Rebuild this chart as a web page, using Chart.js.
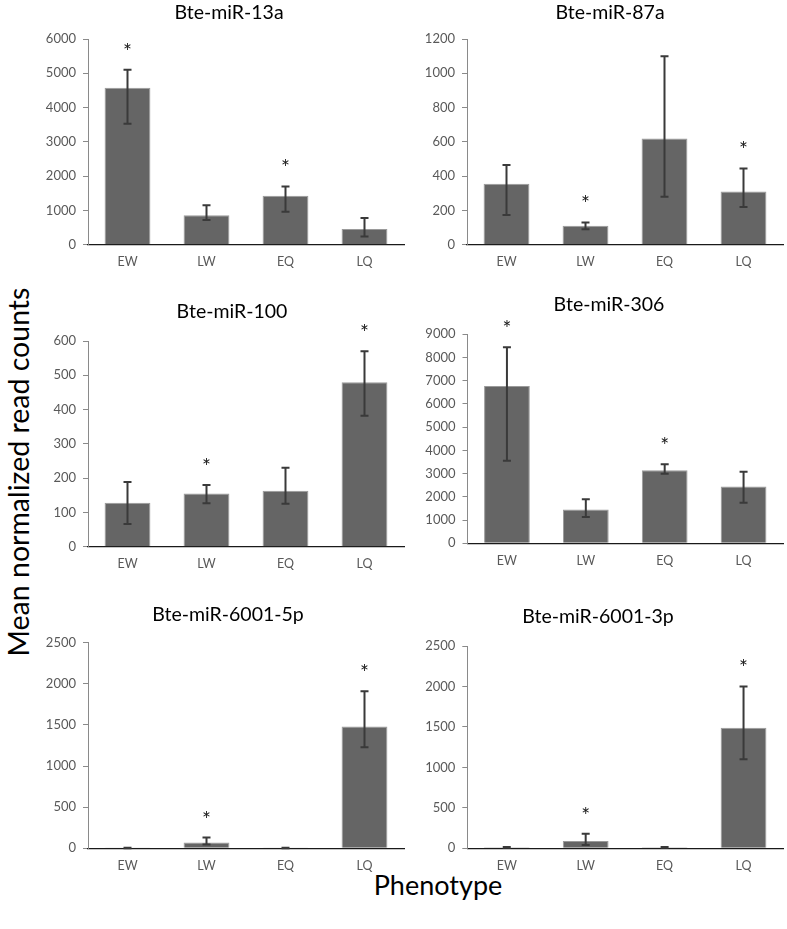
<!DOCTYPE html>
<html>
<head>
<meta charset="utf-8">
<script src="https://cdn.jsdelivr.net/npm/chart.js@4.4.1/dist/chart.umd.min.js"></script>
<style>
  html, body { margin: 0; padding: 0; background: #fff; }
  body { width: 787px; height: 929px; position: relative; overflow: hidden; font-family: Lato, sans-serif; }
  canvas { position: absolute; left: 0; top: 0; }
  .biglab { position: absolute; color: #000; font-size: 27px; white-space: nowrap; transform: translate(-50%, -50%); }
  #ylab { left: 18px; top: 472px; font-size: 28.5px; transform: translate(-50%, -50%) rotate(-90deg); }
  #xlab { left: 438px; top: 884px; }
</style>
</head>
<body>
<div id="ylab" class="biglab">Mean normalized read counts</div>
<div id="xlab" class="biglab">Phenotype</div>
<script>
// --- data ---
const categories = ["EW", "LW", "EQ", "LQ"];
const panelTitles = ["Bte-miR-13a", "Bte-miR-87a", "Bte-miR-100", "Bte-miR-306", "Bte-miR-6001-5p", "Bte-miR-6001-3p"];

const meanCounts = [
  [4580, 860, 1430, 460],
  [355, 110, 620, 310],
  [128, 155, 163, 480],
  [6770, 1460, 3150, 2450],
  [3, 70, 3, 1480],
  [12, 90, 12, 1490]
];
const errLow = [
  [3530, 720, 960, 240],
  [173, 90, 280, 220],
  [66, 127, 125, 382],
  [3560, 1130, 3000, 1750],
  [0, 45, 0, 1230],
  [8, 40, 8, 1100]
];
const errHigh = [
  [5100, 1150, 1700, 780],
  [465, 130, 1100, 445],
  [189, 180, 230, 570],
  [8440, 1900, 3400, 3080],
  [8, 130, 6, 1910],
  [16, 180, 16, 2000]
];
const significant = [
  [true, false, true, false],
  [false, true, false, true],
  [false, true, false, true],
  [true, false, true, false],
  [false, true, false, true],
  [false, true, false, true]
];
const axisMax = [6000, 1200, 600, 9000, 2500, 2500];
const axisStep = [1000, 200, 100, 1000, 500, 500];

// --- where each panel sits on the page (plot area + title centre) ---
const W = 787, H = 929;
const Y_W = 50, X_H = 30;
const frames = [
  { left: 88,    right: 404, top: 39,    bottom: 244.7, tx: 229, ty: 13 },
  { left: 467,   right: 783, top: 39,    bottom: 244.7, tx: 610, ty: 13 },
  { left: 88,    right: 404, top: 341,   bottom: 546.7, tx: 232, ty: 312 },
  { left: 467.5, right: 783, top: 334.3, bottom: 543.3, tx: 609, ty: 305 },
  { left: 88,    right: 404, top: 642.7, bottom: 848.3, tx: 228, ty: 615 },
  { left: 467.3, right: 783, top: 646,   bottom: 848.3, tx: 598, ty: 617 }
];

const FONT = "Lato, sans-serif";
const TICK_COLOR = "#595959";

// error bars, asterisks and the panel title
const extras = {
  id: "extras",
  afterDatasetsDraw(chart, args, o) {
    const ctx = chart.ctx, y = chart.scales.y;
    const meta = chart.getDatasetMeta(0);
    ctx.save();
    ctx.strokeStyle = "#3a3a3a";
    ctx.lineWidth = 2;
    o.lo.forEach((lo, i) => {
      const px = meta.data[i].x;
      const yl = y.getPixelForValue(lo), yh = y.getPixelForValue(o.hi[i]);
      ctx.beginPath();
      ctx.moveTo(px, yl); ctx.lineTo(px, yh);
      ctx.moveTo(px - 4, yl); ctx.lineTo(px + 4, yl);
      ctx.moveTo(px - 4, yh); ctx.lineTo(px + 4, yh);
      ctx.stroke();
      if (o.sig[i]) {
        ctx.fillStyle = "#1a1a1a";
        ctx.font = "21px " + FONT;
        ctx.textAlign = "center";
        ctx.textBaseline = "alphabetic";
        const m = ctx.measureText("*");
        const cy = yh - 23.5;
        ctx.fillText("*", px, cy + (m.actualBoundingBoxAscent - m.actualBoundingBoxDescent) / 2);
      }
    });
    ctx.restore();
  },
  afterDraw(chart, args, o) {
    const ctx = chart.ctx;
    ctx.save();
    ctx.fillStyle = "#000";
    ctx.font = "normal 19.5px " + FONT;
    ctx.textAlign = "center";
    ctx.textBaseline = "middle";
    ctx.fillText(o.title, o.tx, o.ty);
    ctx.restore();
  }
};

frames.forEach((f, k) => {
  const canvas = document.createElement("canvas");
  canvas.width = W; canvas.height = H;
  document.body.appendChild(canvas);

  new Chart(canvas.getContext("2d"), {
    type: "bar",
    data: {
      labels: categories,
      datasets: [{
        data: meanCounts[k],
        backgroundColor: "#656565",
        borderColor: "#9a9a9a",
        borderWidth: 1,
        categoryPercentage: 1,
        barPercentage: 0.58
      }]
    },
    plugins: [extras],
    options: {
      responsive: false,
      animation: false,
      layout: {
        padding: {
          left: f.left - Y_W,
          right: W - f.right,
          top: f.top,
          bottom: H - f.bottom - X_H
        }
      },
      plugins: {
        legend: { display: false },
        tooltip: { enabled: false },
        title: { display: false },
        extras: {
          lo: errLow[k], hi: errHigh[k], sig: significant[k],
          title: panelTitles[k], tx: f.tx, ty: f.ty
        }
      },
      scales: {
        x: {
          z: 1,
          grid: { display: false, drawTicks: false },
          border: { color: "#1a1a1a", width: 1.3 },
          ticks: { color: TICK_COLOR, font: { family: FONT, size: 12.5 }, padding: 10 },
          afterFit: (s) => { s.height = X_H; }
        },
        y: {
          min: 0,
          max: axisMax[k],
          grid: { drawOnChartArea: false, drawTicks: true, tickLength: 5, color: "#8a8a8a" },
          border: { color: "#8a8a8a", width: 1 },
          ticks: {
            stepSize: axisStep[k],
            color: TICK_COLOR,
            font: { family: FONT, size: 13 },
            padding: 7,
            callback: (v) => String(v)
          },
          afterFit: (s) => { s.width = Y_W; }
        }
      }
    }
  });
});
</script>
</body>
</html>
